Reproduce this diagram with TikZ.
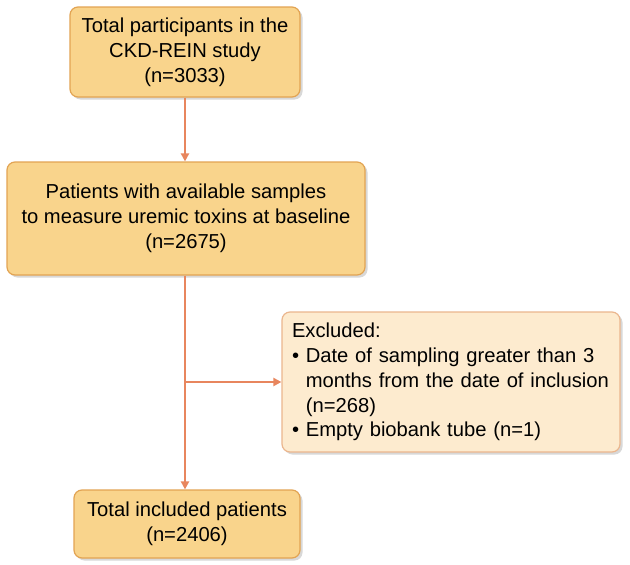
\documentclass[tikz,border=0pt]{standalone}
\usepackage{fontspec}
\setmainfont{Liberation Sans}
\usetikzlibrary{%
  calc,arrows.meta,shadows}
\definecolor{boxfill}{HTML}{F9D48C}
\definecolor{boxline}{HTML}{E2A453}
\definecolor{exfill}{HTML}{FDEBCF}
\definecolor{exline}{HTML}{EBB68E}
\definecolor{flowline}{HTML}{E8865E}
\tikzset {>={Triangle[length=8pt,width=8pt]},
  stagebox/.style={draw=boxline,fill=boxfill,line width=1.2pt,
    rounded corners=8pt,align=center,inner sep=0pt,
    drop shadow={shadow xshift=2.5pt,shadow yshift=-2.5pt,fill=black!30}},
  exclbox/.style={stagebox,draw=exline,fill=exfill,align=left},
  flow/.style={draw=flowline,line width=2pt}}

\begin{document}
\begin{tikzpicture}[font=\fontsize{20.2}{24.8}\selectfont]
\useasboundingbox[fill=white] (0,0) rectangle (630pt,-565pt);
\node[stagebox,minimum width=230pt,minimum height=90pt]
  (total) at (185pt,-52pt)
  {Total participants in the\\CKD-REIN study\\(n=3033)};
\node[stagebox,minimum width=358pt,minimum height=113pt]
  (samples) at (186pt,-218.5pt)
  {Patients with available samples\\to measure uremic toxins at baseline\\(n=2675)};
\node[exclbox,minimum width=338pt,minimum height=140pt,
  text width=318pt] (excl) at (451pt,-382pt)
  {Excluded:\\
   \textbullet\ Date of sampling greater than 3\\
   \hphantom{\textbullet\ }months from the date of inclusion\\
   \hphantom{\textbullet\ }(n=268)\\
   \textbullet\ Empty biobank tube (n=1)};
\node[stagebox,minimum width=226pt,minimum height=68pt]
  (included) at (187pt,-524pt)
  {Total included patients\\(n=2406)};
\draw[flow,->] (total.south) -- (total.south |- samples.north);
\coordinate (split) at (total.south |- excl.west);
\draw[flow,->] (total.south |- samples.south) -- (total.south |- included.north);
\draw[flow,->] (split) -- (excl.west);
\end{tikzpicture}
\end{document}
